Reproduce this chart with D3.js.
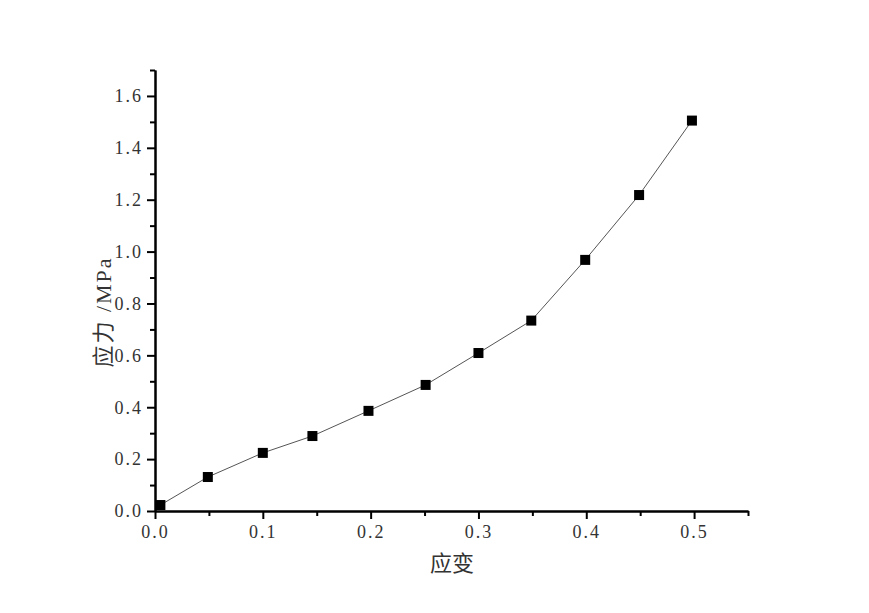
<!DOCTYPE html>
<html><head><meta charset="utf-8">
<script src="https://cdn.jsdelivr.net/npm/d3@7"></script>
<style>body{margin:0;background:#fff}</style>
</head><body>
<svg id="c" width="869" height="613"></svg>
<script>
const strain = [0.005, 0.049, 0.100, 0.146, 0.198, 0.251, 0.300, 0.349, 0.399, 0.449, 0.498];
const stress = [0.023, 0.131, 0.224, 0.289, 0.386, 0.486, 0.609, 0.734, 0.968, 1.218, 1.505];
const xMajorTicks = [0, 0.1, 0.2, 0.3, 0.4, 0.5];
const xMinorTicks = [0.05, 0.15, 0.25, 0.35, 0.45, 0.55];
const yMajorTicks = [0, 0.2, 0.4, 0.6, 0.8, 1.0, 1.2, 1.4, 1.6];
const yMinorTicks = [0.1, 0.3, 0.5, 0.7, 0.9, 1.1, 1.3, 1.5, 1.7];
const xTitle = "应变";
const yTitle = "应力 /MPa";

const svg = d3.select("#c");
const x = d3.scaleLinear().domain([0, 0.55]).range([155, 748]);
const y = d3.scaleLinear().domain([0, 1.7]).range([511, 70]);
const tickFont = "'Liberation Serif', serif";
const titleFont = "'Liberation Serif', 'Noto Sans CJK SC', serif";

// x axis
const gx = svg.append("g").attr("transform", `translate(0,${y(0)})`);
gx.call(d3.axisBottom(x).tickValues(xMajorTicks).tickSize(8).tickSizeOuter(0).tickFormat(d3.format(".1f")));
gx.append("g").call(d3.axisBottom(x).tickValues(xMinorTicks).tickSize(5).tickSizeOuter(0).tickFormat(""));
gx.selectAll("path.domain").attr("stroke", "#000").attr("stroke-width", 2);
gx.selectAll("line").attr("stroke", "#000").attr("stroke-width", 2);
gx.selectAll("text").attr("font-family", tickFont).attr("font-size", 18).attr("letter-spacing", 2)
  .attr("fill", "#333").attr("dy", "1.05em").attr("y", 8);

// y axis
const gy = svg.append("g").attr("transform", `translate(${x(0)},0)`);
gy.call(d3.axisLeft(y).tickValues(yMajorTicks).tickSize(8).tickSizeOuter(0).tickFormat(d3.format(".1f")));
gy.append("g").call(d3.axisLeft(y).tickValues(yMinorTicks).tickSize(5).tickSizeOuter(0).tickFormat(""));
gy.selectAll("path.domain").attr("stroke", "#000").attr("stroke-width", 2);
gy.selectAll("line").attr("stroke", "#000").attr("stroke-width", 2);
gy.selectAll("text").attr("font-family", tickFont).attr("font-size", 18).attr("letter-spacing", 2)
  .attr("fill", "#333").attr("x", -12);

// line
const pts = strain.map((s, i) => [s, stress[i]]);
svg.append("path").datum(pts)
  .attr("fill", "none").attr("stroke", "#555").attr("stroke-width", 1)
  .attr("d", d3.line().x(d => x(d[0])).y(d => y(d[1])));

// markers
const ms = 10;
svg.append("g").selectAll("rect").data(pts).join("rect")
  .attr("x", d => x(d[0]) - ms/2).attr("y", d => y(d[1]) - ms/2)
  .attr("width", ms).attr("height", ms).attr("fill", "#000");

// titles
svg.append("text").attr("x", 452).attr("y", 571).attr("text-anchor", "middle")
  .attr("font-family", titleFont).attr("font-size", 22).attr("fill", "#333").text(xTitle);
svg.append("text").attr("transform", `translate(111,312) rotate(-90)`).attr("text-anchor", "middle")
  .attr("font-family", titleFont).attr("font-size", 22).attr("letter-spacing", 2).attr("fill", "#333").text(yTitle);
</script>
</body></html>
